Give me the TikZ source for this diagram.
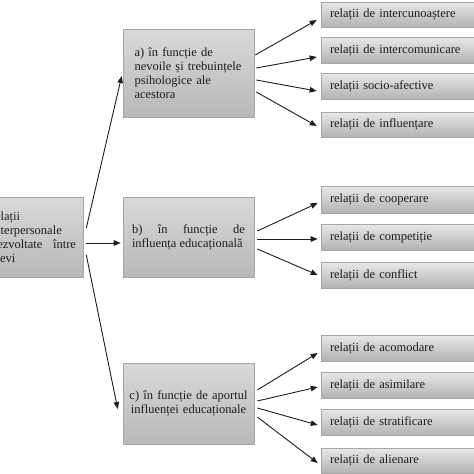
\documentclass[tikz,border=0pt]{standalone}
\usepackage{fontspec}
\setmainfont{Liberation Serif}
\usetikzlibrary{arrows.meta}
\definecolor{rtop}{HTML}{E8E8E8}
\definecolor{rbot}{HTML}{B2B2B2}
\definecolor{mtop}{HTML}{D9D9D9}
\definecolor{mbot}{HTML}{B8B8B8}
\definecolor{edge}{HTML}{A6A6A6}
\definecolor{ink}{HTML}{1E1E1E}
\newcommand{\nohyph}{\hyphenpenalty=10000\exhyphenpenalty=10000\tolerance=9999\emergencystretch=20pt}
\tikzset{
  mbox/.style={draw=edge, line width=0.6pt, top color=mtop, bottom color=mbot,
    minimum width=131pt, inner xsep=6pt, inner ysep=0pt,
    font=\fontsize{12.5pt}{14pt}\selectfont\nohyph, text=ink},
  rbox/.style={draw=edge, line width=0.6pt, top color=rtop, bottom color=rbot,
    minimum width=169pt, text width=151pt, align=left, inner xsep=9pt, inner ysep=0pt,
    font=\fontsize{12.5pt}{14pt}\selectfont\nohyph, text=ink},
  arr/.style={draw=ink, line width=0.9pt, -{Triangle[length=7pt,width=5.5pt]}}
}
\begin{document}
\begin{tikzpicture}[x=1pt,y=-1pt]
\useasboundingbox (0,0) rectangle (474,474);
\clip (0,0) rectangle (474,474);
\fill[white] (0,0) rectangle (474,474);
% left box
\node[mbox, minimum width=99pt, minimum height=80pt, text width=85pt, align=justify, inner xsep=7pt] (L) at (33.5,237)
  {relații interpersonale dezvoltate între elevi};
% middle boxes
\node[mbox, minimum height=88pt, text width=108pt, align=left] (A) at (188.5,73)
  {a) în funcție de nevoile și trebuințele psihologice ale acestora};
\node[mbox, minimum height=80pt, text width=113pt, align=justify] (B) at (188.5,237)
  {b) în funcție de influența educațională};
\node[mbox, minimum height=81pt, text width=124pt, inner xsep=3.5pt, align=center] (C) at (188.5,403.5)
  {c) în funcție de aportul\\ influenței educaționale};
% right boxes group a
\node[rbox, minimum height=25pt] (A1) at (405.5,14.5) {relații de intercunoaștere};
\node[rbox, minimum height=26pt] (A2) at (405.5,50) {relații de intercomunicare};
\node[rbox, minimum height=26pt] (A3) at (405.5,86) {relații socio-afective};
\node[rbox, minimum height=25pt] (A4) at (405.5,124.5) {relații de influențare};
% group b
\node[rbox, minimum height=27pt] (B1) at (405.5,199.5) {relații de cooperare};
\node[rbox, minimum height=26pt] (B2) at (405.5,237) {relații de competiție};
\node[rbox, minimum height=26pt] (B3) at (405.5,275) {relații de conflict};
% group c
\node[rbox, minimum height=26pt] (C1) at (405.5,348) {relații de acomodare};
\node[rbox, minimum height=26pt] (C2) at (405.5,385) {relații de asimilare};
\node[rbox, minimum height=26pt] (C3) at (405.5,422) {relații de stratificare};
\node[rbox, minimum height=25pt] (C4) at (405.5,460.5) {relații de alienare};
% arrows from left box
\draw[arr] ([xshift=3pt,yshift=9pt]L.east) -- ([xshift=-1pt,yshift=-3pt]A.west);
\draw[arr] ([xshift=3pt,yshift=-6pt]L.east) -- ([xshift=-2pt,yshift=-6pt]B.west);
\draw[arr] ([xshift=3pt,yshift=-18pt]L.east) -- ([xshift=-5pt,yshift=-5.5pt]C.west);
% arrows from A
\draw[arr] ([xshift=1pt,yshift=18pt]A.east) -- ([xshift=-4pt,yshift=-5.5pt]A1.west);
\draw[arr] ([xshift=2pt,yshift=5pt]A.east) -- ([xshift=-4pt,yshift=-7pt]A2.west);
\draw[arr] ([xshift=2pt,yshift=-7pt]A.east) -- ([xshift=-4pt,yshift=-5pt]A3.west);
\draw[arr] ([xshift=2pt,yshift=-19pt]A.east) -- ([xshift=-4pt,yshift=-1.5pt]A4.west);
% arrows from B
\draw[arr] ([xshift=3pt,yshift=6pt]B.east) -- ([xshift=-3pt,yshift=-3.5pt]B1.west);
\draw[arr] ([xshift=3pt,yshift=-2pt]B.east) -- ([xshift=-3pt,yshift=-2pt]B2.west);
\draw[arr] ([xshift=3pt,yshift=-12pt]B.east) -- ([xshift=-3pt,yshift=0pt]B3.west);
% arrows from C
\draw[arr] ([xshift=3pt,yshift=13.5pt]C.east) -- ([xshift=-3pt,yshift=-5pt]C1.west);
\draw[arr] ([xshift=3pt,yshift=2.5pt]C.east) -- ([xshift=-3pt,yshift=-2pt]C2.west);
\draw[arr] ([xshift=3pt,yshift=-4.5pt]C.east) -- ([xshift=-3pt,yshift=-3pt]C3.west);
\draw[arr] ([xshift=3pt,yshift=-13.5pt]C.east) -- ([xshift=-3pt,yshift=-2.5pt]C4.west);
\end{tikzpicture}
\end{document}
